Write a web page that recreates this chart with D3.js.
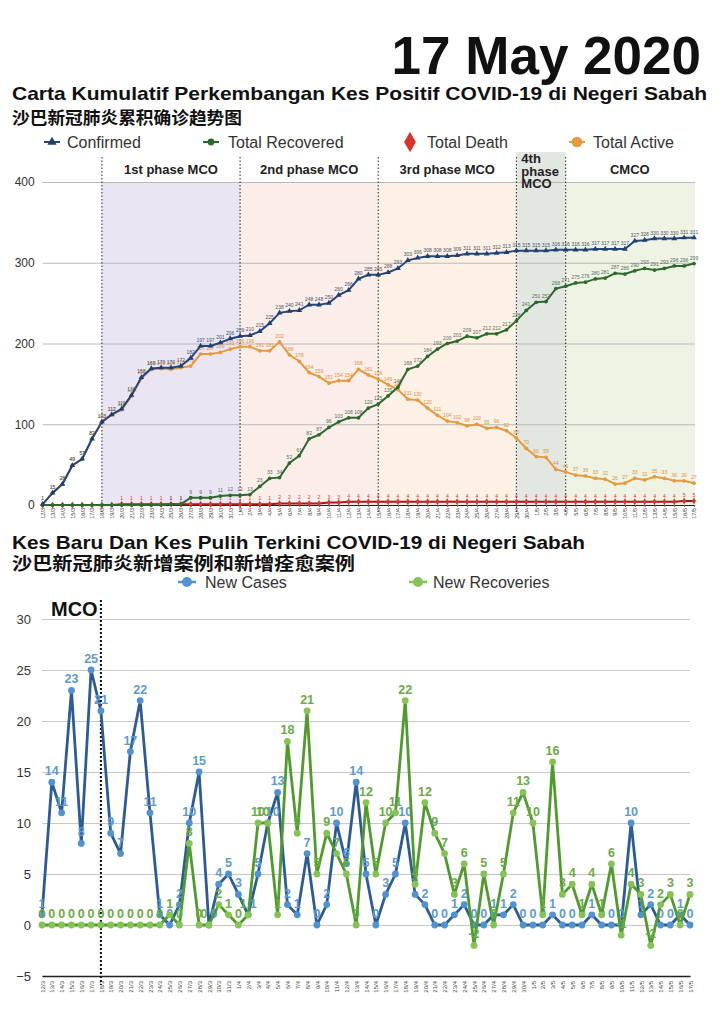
<!DOCTYPE html>
<html>
<head>
<meta charset="utf-8">
<script src="https://cdn.jsdelivr.net/npm/d3@7"></script>
<style>
body { margin: 0; background: #fff; }
svg { display: block; font-family: "Liberation Sans", Arial, Helvetica, sans-serif; }
</style>
</head>
<body>
<svg id="chart" width="720" height="1017"></svg>
<script>
// dates on the x axis (day/month, 2020)
const dates = ["12/3","13/3","14/3","15/3","16/3","17/3","18/3","19/3","20/3","21/3","22/3","23/3","24/3","25/3","26/3","27/3","28/3","29/3","30/3","31/3",
  "1/4","2/4","3/4","4/4","5/4","6/4","7/4","8/4","9/4","10/4","11/4","12/4","13/4","14/4","15/4","16/4","17/4","18/4","19/4","20/4",
  "21/4","22/4","23/4","24/4","25/4","26/4","27/4","28/4","29/4","30/4",
  "1/5","2/5","3/5","4/5","5/5","6/5","7/5","8/5","9/5","10/5","11/5","12/5","13/5","14/5","15/5","16/5","17/5"];

// top chart: cumulative series
const confirmed = [1,15,26,49,57,82,103,112,119,136,158,169,170,170,172,182,197,197,201,206,209,210,215,225,
  238,240,241,248,248,250,260,266,280,285,285,288,293,303,306,308,308,308,309,311,311,311,312,313,
  315,315,315,315,316,316,316,316,317,317,317,317,327,328,330,330,330,331,331];
const recovered = [0,0,0,0,0,0,0,0,0,0,0,0,0,1,1,9,9,9,11,12,12,13,23,33,
  34,52,61,82,87,96,103,108,108,120,125,135,146,168,172,184,193,200,203,209,207,212,212,217,
  228,241,251,252,268,271,275,276,280,281,287,286,290,293,291,293,296,296,299];
const deaths = [0,0,0,0,0,0,0,0,1,1,1,1,1,1,1,1,1,1,1,1,1,1,1,1,
  2,2,2,2,2,3,3,4,4,4,4,4,4,4,4,4,4,4,4,4,4,4,4,4,
  4,4,4,4,4,4,4,4,4,4,4,4,4,4,4,4,4,5,5];
const active = [1,15,26,49,57,82,103,112,118,135,157,168,169,168,170,172,187,187,189,193,196,196,191,191,
  202,186,178,164,159,151,154,154,168,161,156,149,143,131,130,120,111,104,102,98,100,95,96,92,
  83,70,60,59,44,41,37,36,33,32,26,27,33,31,35,33,30,30,27];

// bottom chart: daily series
const newCases = [1,14,11,23,8,25,21,9,7,17,22,11,1,0,2,10,15,0,4,5,3,1,5,10,
  13,2,1,7,0,2,10,6,14,5,0,3,5,10,3,2,0,0,1,2,0,0,1,1,
  2,0,0,0,1,0,0,0,1,0,0,0,10,1,2,0,0,1,0];
const newRecoveries = [0,0,0,0,0,0,0,0,0,0,0,0,0,1,0,8,0,0,2,1,0,1,10,10,
  1,18,9,21,5,9,7,5,0,12,5,10,11,22,4,12,9,7,3,6,-2,5,0,5,
  11,13,10,1,16,3,4,1,4,1,6,-1,4,3,-2,2,3,0,3];

// MCO phases (start date, end date)
const phaseNames = [["1st phase MCO"], ["2nd phase MCO"], ["3rd phase MCO"], ["4th", "phase", "MCO"], ["CMCO"]];
const phaseStart = ["18/3", "1/4", "15/4", "29/4", "4/5"];
const phaseEnd = ["1/4", "15/4", "29/4", "4/5", "17/5"];
const phaseColors = ["#e9e5f3", "#fbede9", "#fdf0e5", "#e3e7e1", "#eef3e4"];

const topYTicks = [0, 100, 200, 300, 400];
const bottomYTicks = [-5, 0, 5, 10, 15, 20, 25, 30];

let svg = d3.select("#chart");

// ---------- headings ----------
svg.append("text")
    .attr("x", 701).attr("y", 74)
    .attr("text-anchor", "end")
    .style("font-size", "53px").style("font-weight", "bold").style("fill", "#111")
    .text("17 May 2020");

svg.append("text")
    .attr("x", 12).attr("y", 100)
    .attr("textLength", 695).attr("lengthAdjust", "spacingAndGlyphs")
    .style("font-size", "18.5px").style("font-weight", "bold").style("fill", "#111")
    .text("Carta Kumulatif Perkembangan Kes Positif COVID-19 di Negeri Sabah");

svg.append("text")
    .attr("x", 12).attr("y", 124)
    .attr("textLength", 230).attr("lengthAdjust", "spacingAndGlyphs")
    .style("font-family", "'Noto Sans CJK SC'").style("font-size", "17px").style("font-weight", "bold").style("fill", "#111")
    .text("沙巴新冠肺炎累积确诊趋势图");

// ---------- top chart ----------
let tMargin = {left: 42.7, right: 694, top: 182, bottom: 505};

let xTop = d3.scalePoint()
    .domain(dates)
    .range([tMargin.left, tMargin.right]);

let yTop = d3.scaleLinear()
    .domain([0, 400])
    .range([tMargin.bottom, tMargin.top]);

let topSeries = [
    {name: "Confirmed", values: confirmed, line: "#23477a", mark: "#1f3f6e", label: "#44546a", symbol: d3.symbolTriangle, size: 14},
    {name: "Total Recovered", values: recovered, line: "#2c6a2c", mark: "#2c6a2c", label: "#55705a", symbol: d3.symbolCircle, size: 11},
    {name: "Total Death", values: deaths, line: "#9a1f1f", mark: "#d9342b", label: "#d9342b", symbol: d3.symbolDiamond, size: 14},
    {name: "Total Active", values: active, line: "#e69a3e", mark: "#e69a3e", label: "#e0903a", symbol: d3.symbolCircle, size: 11}
];

// legend
let legendX = [44, 203, 403, 569];
let legendTextX = [67, 228, 427, 593];
topSeries.forEach(function (s, i) {
    let g = svg.append("g");
    if (s.name === "Total Death") {
        g.append("path")
            .attr("d", d3.symbol().type(d3.symbolDiamond).size(120)())
            .attr("transform", "translate(" + (legendX[i] + 7) + ",142)")
            .attr("fill", "#d9342b");
    } else {
        g.append("line")
            .attr("x1", legendX[i]).attr("x2", legendX[i] + 16)
            .attr("y1", 142).attr("y2", 142)
            .attr("stroke", s.line).attr("stroke-width", 2);
        g.append("path")
            .attr("d", d3.symbol().type(s.symbol).size(s.name === "Total Active" ? 90 : 36)())
            .attr("transform", "translate(" + (legendX[i] + 8) + ",142)")
            .attr("fill", s.mark);
    }
    g.append("text")
        .attr("x", legendTextX[i]).attr("y", 148)
        .style("font-size", "16px").style("fill", "#333")
        .text(s.name);
});

// phase bands
phaseNames.forEach(function (name, i) {
    let x0 = xTop(phaseStart[i]);
    let x1 = i === phaseNames.length - 1 ? tMargin.right + 1 : xTop(phaseEnd[i]);
    let top = i === 3 ? 152 : tMargin.top;
    svg.append("rect")
        .attr("x", x0).attr("y", top)
        .attr("width", x1 - x0).attr("height", tMargin.bottom - top)
        .attr("fill", phaseColors[i]);
});

// grid + y axis
svg.append("g")
    .attr("transform", "translate(" + tMargin.left + ",0)")
    .call(d3.axisLeft(yTop).tickValues(topYTicks).tickSize(-(tMargin.right - tMargin.left + 1)).tickPadding(8))
    .call(g => g.select(".domain").remove())
    .call(g => g.selectAll("line").attr("stroke", "#b8b8b8"))
    .call(g => g.selectAll("text").style("font-size", "12px").style("fill", "#333")
        .style("font-family", "'Liberation Sans', Arial, sans-serif"));

// phase divider lines
phaseStart.forEach(function (d) {
    svg.append("line")
        .attr("x1", xTop(d)).attr("x2", xTop(d))
        .attr("y1", 157).attr("y2", 512)
        .attr("stroke", "#222").attr("stroke-width", 1)
        .attr("stroke-dasharray", "1.5,2");
});

// phase headers
phaseNames.forEach(function (name, i) {
    let x0 = xTop(phaseStart[i]);
    let x1 = i === phaseNames.length - 1 ? tMargin.right : xTop(phaseEnd[i]);
    if (name.length === 1) {
        svg.append("text")
            .attr("x", (x0 + x1) / 2).attr("y", 174)
            .attr("text-anchor", "middle")
            .style("font-size", "13px").style("font-weight", "bold").style("fill", "#222")
            .text(name[0]);
    } else {
        name.forEach(function (w, j) {
            svg.append("text")
                .attr("x", x0 + 5).attr("y", 163 + j * 12.5)
                .style("font-size", "13px").style("font-weight", "bold").style("fill", "#222")
                .text(w);
        });
    }
});

// x axis
svg.append("g")
    .attr("transform", "translate(0," + tMargin.bottom + ")")
    .call(d3.axisBottom(xTop).tickSize(2))
    .call(g => g.select(".domain").attr("stroke", "#222").attr("stroke-width", 1.2))
    .call(g => g.selectAll(".tick line").attr("stroke", "#666"))
    .call(g => g.selectAll("text")
        .attr("transform", "rotate(-90)")
        .attr("text-anchor", "end")
        .attr("x", -3).attr("y", 0).attr("dy", "0.35em")
        .style("font-size", "5.5px").style("fill", "#444"));

// series lines, markers and labels
let topLine = d3.line()
    .x((d, i) => xTop(dates[i]))
    .y(d => yTop(d));

topSeries.slice().reverse().forEach(function (s) {
    let g = svg.append("g");
    g.append("path")
        .datum(s.values)
        .attr("d", topLine)
        .attr("fill", "none")
        .attr("stroke", s.line)
        .attr("stroke-width", 2);
    g.selectAll(".m")
        .data(s.values)
        .enter().append("path")
        .attr("d", d3.symbol().type(s.symbol).size(s.size))
        .attr("transform", (d, i) => "translate(" + xTop(dates[i]) + "," + yTop(d) + ")")
        .attr("fill", s.mark);
    g.selectAll(".l")
        .data(s.values.map((v, i) => ({v: v, i: i})).filter(d => d.v !== 0))
        .enter().append("text")
        .attr("x", d => xTop(dates[d.i]))
        .attr("y", d => yTop(d.v) - 4)
        .attr("text-anchor", "middle")
        .style("font-size", "5px")
        .style("fill", s.label)
        .text(d => d.v);
});

// ---------- bottom chart ----------
svg.append("text")
    .attr("x", 12).attr("y", 549)
    .attr("textLength", 573).attr("lengthAdjust", "spacingAndGlyphs")
    .style("font-size", "18.5px").style("font-weight", "bold").style("fill", "#111")
    .text("Kes Baru Dan Kes Pulih Terkini COVID-19 di Negeri Sabah");

svg.append("text")
    .attr("x", 12).attr("y", 570)
    .attr("textLength", 343).attr("lengthAdjust", "spacingAndGlyphs")
    .style("font-family", "'Noto Sans CJK SC'").style("font-size", "18px").style("font-weight", "bold").style("fill", "#111")
    .text("沙巴新冠肺炎新增案例和新增痊愈案例");

let bMargin = {left: 42, right: 690, top: 619, bottom: 976};

let xBot = d3.scalePoint()
    .domain(dates)
    .range([bMargin.left, bMargin.right]);

let yBot = d3.scaleLinear()
    .domain([-5, 30])
    .range([bMargin.bottom, bMargin.top]);

let botSeries = [
    {name: "New Cases", values: newCases, other: newRecoveries, shift: 5, line: "#2c5c97", mark: "#4f93d2", label: "#5b9bd5", lx: 178, tx: 205},
    {name: "New Recoveries", values: newRecoveries, other: newCases, shift: -5, line: "#4f9c2d", mark: "#84c453", label: "#6aab45", lx: 409, tx: 433}
];

// legend
botSeries.forEach(function (s) {
    svg.append("line")
        .attr("x1", s.lx).attr("x2", s.lx + 18)
        .attr("y1", 582).attr("y2", 582)
        .attr("stroke", s.mark).attr("stroke-width", 2.5);
    svg.append("circle")
        .attr("cx", s.lx + 9).attr("cy", 582).attr("r", 5)
        .attr("fill", s.mark);
    svg.append("text")
        .attr("x", s.tx).attr("y", 588)
        .style("font-size", "16px").style("fill", "#333")
        .text(s.name);
});

// grid + y axis
svg.append("g")
    .attr("transform", "translate(" + bMargin.left + ",0)")
    .call(d3.axisLeft(yBot).tickValues(bottomYTicks).tickSize(-(bMargin.right - bMargin.left)).tickPadding(11))
    .call(g => g.select(".domain").remove())
    .call(g => g.selectAll("line").attr("stroke", "#c9c9c9").attr("stroke-width", 1.2))
    .call(g => g.selectAll("text").style("font-size", "13px").style("fill", "#333")
        .style("font-family", "'Liberation Sans', Arial, sans-serif"));

// x axis
svg.append("g")
    .attr("transform", "translate(0," + bMargin.bottom + ")")
    .call(d3.axisBottom(xBot).tickSize(0))
    .call(g => g.select(".domain").attr("stroke", "#222").attr("stroke-width", 1.5))
    .call(g => g.selectAll("text")
        .attr("transform", "rotate(-90)")
        .attr("text-anchor", "end")
        .attr("x", -5).attr("y", 0).attr("dy", "0.35em")
        .style("font-size", "6px").style("fill", "#444"));

// MCO marker
svg.append("line")
    .attr("x1", xBot("18/3")).attr("x2", xBot("18/3"))
    .attr("y1", 600).attr("y2", 985)
    .attr("stroke", "#111").attr("stroke-width", 2)
    .attr("stroke-dasharray", "2,2");
svg.append("text")
    .attr("x", 51).attr("y", 616)
    .style("font-size", "20px").style("font-weight", "bold").style("fill", "#111")
    .text("MCO");

let botLine = d3.line()
    .x((d, i) => xBot(dates[i]))
    .y(d => yBot(d));

botSeries.forEach(function (s) {
    let g = svg.append("g");
    g.append("path")
        .datum(s.values)
        .attr("d", botLine)
        .attr("fill", "none")
        .attr("stroke", s.line)
        .attr("stroke-width", 2.8)
        .attr("stroke-linejoin", "round");
    g.selectAll("circle")
        .data(s.values)
        .enter().append("circle")
        .attr("cx", (d, i) => xBot(dates[i]))
        .attr("cy", d => yBot(d))
        .attr("r", 3.4)
        .attr("fill", s.mark);
    // where both series share a value, the two labels are set side by side
    g.selectAll("text")
        .data(s.values)
        .enter().append("text")
        .attr("x", (d, i) => xBot(dates[i]) + (s.other[i] === d ? s.shift : 0))
        .attr("y", d => yBot(d) - 7)
        .attr("text-anchor", "middle")
        .style("font-size", "12.5px")
        .style("font-weight", "bold")
        .style("fill", s.label)
        .text(d => d);
});
</script>
</body>
</html>
